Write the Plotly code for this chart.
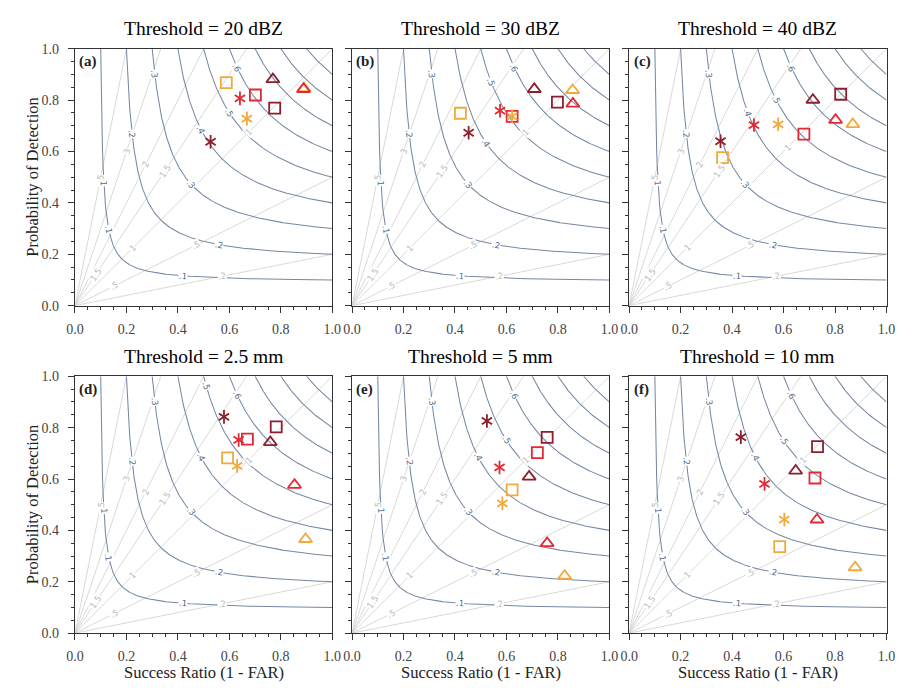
import math
import numpy as np
import plotly.graph_objects as go

# ---------------- data ----------------
TITLES = ["Threshold = 20 dBZ", "Threshold = 30 dBZ", "Threshold = 40 dBZ",
          "Threshold = 2.5 mm", "Threshold = 5 mm", "Threshold = 10 mm"]
PANEL_TAGS = ["(a)", "(b)", "(c)", "(d)", "(e)", "(f)"]
TICK_VALS = [0.0, 0.2, 0.4, 0.6, 0.8, 1.0]
TICK_TEXT = ["0.0", "0.2", "0.4", "0.6", "0.8", "1.0"]
X_TITLE = "Success Ratio (1 - FAR)"
Y_TITLE = "Probability of Detection"

CSI_LEVELS = [0.1, 0.2, 0.3, 0.4, 0.5, 0.6, 0.7, 0.8, 0.9]
BIAS_LEVELS = [0.2, 0.5, 1.0, 1.5, 2.0, 3.0, 5.0]
BIAS_TEXT = {0.2: ".2", 0.5: ".5", 1.0: "1", 1.5: "1.5", 2.0: "2", 3.0: "3", 5.0: "5"}
# label anchors: (CSI level, success ratio where the label sits)
CSI_LABEL_AT = [(0.1, 0.1008), (0.1, 0.112), (0.1, 0.42), (0.2, 0.222), (0.2, 0.56),
                (0.3, 0.31), (0.3, 0.45), (0.4, 0.49), (0.5, 0.60), (0.6, 0.63)]
# (bias level, success ratio where the label sits)
BIAS_LABEL_AT = [(5.0, 0.10), (3.0, 0.20), (2.0, 0.275), (1.5, 0.35), (1.5, 0.08),
                 (1.0, 0.675), (1.0, 0.225), (0.5, 0.47), (0.5, 0.15), (0.2, 0.57)]

# success ratio / POD per series, panels (a)..(f)
sr_star_dark = [0.527, 0.453, 0.355, 0.579, 0.524, 0.434]
pod_star_dark = [0.638, 0.673, 0.640, 0.842, 0.826, 0.763]
sr_star_red = [0.641, 0.575, 0.485, 0.636, 0.573, 0.526]
pod_star_red = [0.807, 0.759, 0.703, 0.752, 0.645, 0.581]
sr_star_orange = [0.668, 0.622, 0.579, 0.630, 0.584, 0.603]
pod_star_orange = [0.728, 0.737, 0.706, 0.651, 0.505, 0.442]

sr_sq_dark = [0.776, 0.798, 0.822, 0.782, 0.758, 0.732]
pod_sq_dark = [0.769, 0.792, 0.823, 0.803, 0.762, 0.726]
sr_sq_red = [0.701, 0.622, 0.679, 0.670, 0.720, 0.722]
pod_sq_red = [0.820, 0.737, 0.668, 0.755, 0.703, 0.604]
sr_sq_orange = [0.588, 0.421, 0.363, 0.593, 0.622, 0.585]
pod_sq_orange = [0.868, 0.749, 0.576, 0.682, 0.558, 0.337]

sr_tri_dark = [0.769, 0.708, 0.714, 0.759, 0.688, 0.647]
pod_tri_dark = [0.881, 0.843, 0.801, 0.743, 0.609, 0.632]
sr_tri_red = [0.888, 0.858, 0.802, 0.853, 0.758, 0.730]
pod_tri_red = [0.843, 0.786, 0.723, 0.577, 0.350, 0.442]
sr_tri_orange = [0.890, 0.857, 0.869, 0.896, 0.826, 0.878]
pod_tri_orange = [0.846, 0.839, 0.706, 0.366, 0.223, 0.256]

SERIES = [
    ("square", "dark", sr_sq_dark, pod_sq_dark),
    ("square", "red", sr_sq_red, pod_sq_red),
    ("square", "orange", sr_sq_orange, pod_sq_orange),
    ("triangle", "dark", sr_tri_dark, pod_tri_dark),
    ("triangle", "orange", sr_tri_orange, pod_tri_orange),
    ("triangle", "red", sr_tri_red, pod_tri_red),
    ("star", "dark", sr_star_dark, pod_star_dark),
    ("star", "red", sr_star_red, pod_star_red),
    ("star", "orange", sr_star_orange, pod_star_orange),
]

# ---------------- style ----------------
W, H = 906, 688
COLORS = {"dark": "#8c1f2e", "red": "#e22a35", "orange": "#f3a93a"}
CSI_COLOR = "#7489a4"
CSI_LABEL_COLOR = "#50698a"
BIAS_COLOR = "#d5d5d5"
BIAS_LABEL_COLOR = "#b8b8b8"
AXIS_COLOR = "#333333"
FONT = "Liberation Serif"
COL_X0 = [67.3, 350.0, 632.7]
ROW_Y0 = [42.7, 377.5]
PW, PH = 262.6, 262.6
CLEAR = 0.05  # minimum distance (data units) between a line label and a marker

fig = go.Figure()
annotations = []


def csi_pod(c, sr):
    return 1.0 / (1.0 / c + 1.0 - 1.0 / sr)


def is_clear(x, y, pts):
    return all(math.hypot(x - px, y - py) > CLEAR for px, py in pts)


for p in range(6):
    row, col = divmod(p, 3)
    n = p + 1
    xa, ya = f"x{n}", f"y{n}"
    x0 = COL_X0[col]
    yt = ROW_Y0[row]
    pts = [(s[2][p], s[3][p]) for s in SERIES]

    # bias lines
    for b in BIAS_LEVELS:
        fig.add_trace(go.Scatter(x=[0, min(1.0, 1.0 / b)], y=[0, min(1.0, b)], mode="lines",
                                 line=dict(color=BIAS_COLOR, width=0.9), xaxis=xa, yaxis=ya,
                                 hoverinfo="skip", showlegend=False))
    # CSI curves
    for c in CSI_LEVELS:
        sr = np.linspace(c, 1.0, 400)
        pod = np.clip(csi_pod(c, sr), 0, 1)
        fig.add_trace(go.Scatter(x=sr, y=pod, mode="lines",
                                 line=dict(color=CSI_COLOR, width=1.05), xaxis=xa, yaxis=ya,
                                 hoverinfo="skip", showlegend=False))
    # markers
    for shape, col_key, srs, pods in SERIES:
        color = COLORS[col_key]
        if shape == "star":
            for sym in ("y-up", "y-down"):
                fig.add_trace(go.Scatter(x=[srs[p]], y=[pods[p]], mode="markers",
                                         marker=dict(symbol=sym, size=8.5, color=color,
                                                     line=dict(color=color, width=1.8)),
                                         xaxis=xa, yaxis=ya, showlegend=False))
        elif shape == "square":
            fig.add_trace(go.Scatter(x=[srs[p]], y=[pods[p]], mode="markers",
                                     marker=dict(symbol="square-open", size=11, color=color,
                                                 line=dict(color=color, width=1.8)),
                                     xaxis=xa, yaxis=ya, showlegend=False))
        else:
            fig.add_trace(go.Scatter(x=[srs[p]], y=[pods[p]], mode="markers",
                                     marker=dict(symbol="triangle-up-open", size=11.5, color=color,
                                                 line=dict(color=color, width=1.8)),
                                     xaxis=xa, yaxis=ya, showlegend=False))

    # contour labels (slid along their line when a marker sits on them)
    shifts = [0, -0.03, 0.03, -0.06, 0.06, -0.09, 0.09, -0.12, 0.12]
    for c, sr0 in CSI_LABEL_AT:
        for d in shifts:
            sr = sr0 + d
            if sr <= c + 0.005 or sr >= 1:
                continue
            pod = csi_pod(c, sr)
            if is_clear(sr, pod, pts):
                ang = math.degrees(math.atan(pod ** 2 / sr ** 2))
                annotations.append(dict(x=sr, y=pod, xref=xa, yref=ya,
                                        text=f".{int(round(c * 10))}",
                                        showarrow=False, textangle=ang, bgcolor="white",
                                        borderpad=0,
                                        font=dict(family="DejaVu Sans", size=8.5,
                                                  color=CSI_LABEL_COLOR)))
                break
    for b, sr0 in BIAS_LABEL_AT:
        for d in shifts:
            sr = sr0 + d
            if sr <= 0.02 or b * sr >= 1 or sr >= 1:
                continue
            if is_clear(sr, b * sr, pts):
                annotations.append(dict(x=sr, y=b * sr, xref=xa, yref=ya, text=BIAS_TEXT[b],
                                        showarrow=False, textangle=-math.degrees(math.atan(b)),
                                        bgcolor="white", borderpad=0,
                                        font=dict(family="DejaVu Sans", size=8.5,
                                                  color=BIAS_LABEL_COLOR)))
                break

    # axes
    axis_common = dict(range=[0, 1], showgrid=False, zeroline=False, showline=True,
                       linecolor=AXIS_COLOR, linewidth=1.2, mirror=True,
                       ticks="outside", ticklen=6, tickcolor=AXIS_COLOR, tickwidth=1,
                       tickvals=TICK_VALS, ticktext=TICK_TEXT,
                       tickfont=dict(family=FONT, size=14, color="#444444"),
                       minor=dict(dtick=0.05, tick0=0, ticks="outside", ticklen=3,
                                  tickcolor=AXIS_COLOR, showgrid=False),
                       fixedrange=True)
    fig.layout[f"xaxis{n}"] = dict(axis_common, domain=[x0 / W, (x0 + PW) / W], anchor=ya,
                                   ticklabelstandoff=4)
    fig.layout[f"yaxis{n}"] = dict(axis_common, domain=[1 - (yt + PH) / H, 1 - yt / H],
                                   anchor=xa, showticklabels=(col == 0), ticklabelstandoff=6)

    # panel title and tag
    annotations.append(dict(x=(x0 + PW / 2) / W, y=1 - (yt - 20.5) / H, xref="paper",
                            yref="paper", text=TITLES[p], showarrow=False,
                            xanchor="center", yanchor="middle",
                            font=dict(family=FONT, size=19.5, color="black")))
    annotations.append(dict(x=(x0 + 2.5) / W, y=1 - (yt + 13.5) / H, xref="paper",
                            yref="paper", text=f"<b>{PANEL_TAGS[p]}</b>", showarrow=False,
                            xanchor="left", yanchor="middle",
                            font=dict(family=FONT, size=15, color="#222222")))

# axis titles
for row in range(2):
    yt = ROW_Y0[row]
    annotations.append(dict(x=24 / W, y=1 - (yt + PH / 2) / H, xref="paper", yref="paper",
                            text=Y_TITLE, showarrow=False, textangle=-90,
                            xanchor="center", yanchor="middle",
                            font=dict(family=FONT, size=16.5, color="#222222")))
for col in range(3):
    x0 = COL_X0[col]
    annotations.append(dict(x=(x0 + PW / 2) / W, y=1 - 680.5 / H, xref="paper", yref="paper",
                            text=X_TITLE, showarrow=False, xanchor="center", yanchor="middle",
                            font=dict(family=FONT, size=16.5, color="#222222")))

fig.update_layout(width=W, height=H, margin=dict(l=0, r=0, t=0, b=0),
                  paper_bgcolor="white", plot_bgcolor="white",
                  annotations=annotations, showlegend=False,
                  font=dict(family=FONT))

fig.write_html("out.html")
